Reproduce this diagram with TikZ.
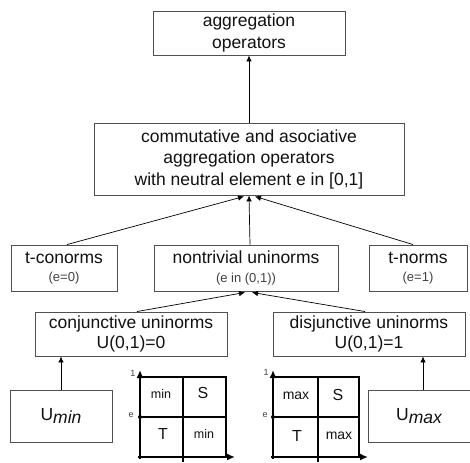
\documentclass[tikz,border=0pt]{standalone}
\usepackage{fontspec}
\setmainfont{Liberation Sans}
\usetikzlibrary{arrows.meta,calc}
\definecolor{boxgray}{HTML}{505050}
\definecolor{txt}{HTML}{111111}
\definecolor{subtxt}{HTML}{404040}
\newcommand\bigf{\fontsize{17.5}{21.5}\selectfont}
\newcommand\smallf{\fontsize{13}{15}\selectfont}
\newcommand\gridf{\fontsize{12.5}{14}\selectfont}
\newcommand\tinyf{\fontsize{9}{10}\selectfont}
\begin{document}
\begin{tikzpicture}[x=1pt,y=-1pt,
  box/.style={draw=boxgray, line width=0.9pt, fill=white, align=center, inner sep=0pt, text=txt, font=\bigf},
  arr/.style={-{Latex[length=6pt,width=5.5pt]}, line width=0.7pt, draw=black},
  axis/.style={line width=2.2pt, -{Latex[length=8pt,width=7pt]}},
  gline/.style={line width=2.2pt},
  glabel/.style={inner sep=0pt, text=txt, font=\gridf},
  alabel/.style={inner sep=0pt, text=subtxt, font=\tinyf}]
\useasboundingbox (0,0) rectangle (470,462);
% boxes
\node[box, minimum width=192pt, minimum height=44pt] (top) at (249,33) {aggregation\\operators};
\node[box, minimum width=310pt, minimum height=72pt] (mid) at (249,159) {commutative and asociative\\aggregation operators\\with neutral element e in [0,1]};
\node[box, minimum width=106pt, minimum height=46pt] (tcon) at (64,268) {t-conorms\\[-3pt]{\smallf\color{subtxt}(e=0)}};
\node[box, minimum width=184pt, minimum height=46pt] (nontriv) at (246,268) {nontrivial uninorms\\[-3pt]{\smallf\color{subtxt}(e in (0,1))}};
\node[box, minimum width=98pt, minimum height=46pt] (tnorm) at (418,268) {t-norms\\[-3pt]{\smallf\color{subtxt}(e=1)}};
\node[box, minimum width=192pt, minimum height=44pt] (conj) at (131,334) {conjunctive uninorms\\[-2pt]U(0,1)=0};
\node[box, minimum width=192pt, minimum height=44pt] (disj) at (369,334) {disjunctive uninorms\\[-2pt]U(0,1)=1};
\node[box, minimum width=102pt, minimum height=52pt] (umin) at (61,416) {U\raisebox{-3pt}{\itshape min}};
\node[box, minimum width=102pt, minimum height=52pt] (umax) at (419,416) {U\raisebox{-3pt}{\itshape max}};
% connectors
\draw[arr] (mid.north) -- (top.south);
\draw[arr] ($(tcon.north)+(3,0)$) -- ($(mid.south)+(-5,1)$);
\draw[arr] ($(nontriv.north)+(4,0)$) -- (mid.south);
\draw[arr] ($(tnorm.north)+(-5,0)$) -- ($(mid.south)+(6,1)$);
\draw[arr] ($(conj.north)+(6,0)$) -- ($(nontriv.south)+(-1,1)$);
\draw[arr] ($(disj.north)+(-4,0)$) -- ($(nontriv.south)+(6,1)$);
\draw[arr] (umin.north) -- (umin.north |- conj.south);
\draw[arr] ($(umax.north)+(4,0)$) -- ($(umax.north |- disj.south)+(4,0)$);
% left grid
\draw[gline] (140,377) -- (226,377) -- (226,457);
\draw[gline] (183,377) -- (183,462);
\draw[gline] (140,417) -- (227,417);
\draw[axis] (140,459) -- (140,370);
\draw[axis] (138,457) -- (235,457);
\fill (140,417) circle (2pt);
\node[alabel] (l1) at (133,373) {1};
\node[alabel] (le) at (131,415) {e};
\node[glabel] (lmin1) at (161,394) {min};
\node[glabel, font=\fontsize{16}{18}\selectfont] (lS) at (203,393) {S};
\node[glabel, font=\fontsize{16}{18}\selectfont] (lT) at (163,434) {T};
\node[glabel] (lmin2) at (204,434) {min};
% right grid
\draw[gline] (273,377) -- (359,377) -- (359,457);
\draw[gline] (318,377) -- (318,462);
\draw[gline] (273,417) -- (360,417);
\draw[axis] (273,459) -- (273,370);
\draw[axis] (271,457) -- (368,457);
\fill (273,417) circle (2pt);
\node[alabel] (r1) at (266,372) {1};
\node[alabel] (re) at (265,415) {e};
\node[glabel, font=\fontsize{14}{16}\selectfont] (rmax1) at (296,396) {max};
\node[glabel, font=\fontsize{16}{18}\selectfont] (rS) at (338,395) {S};
\node[glabel, font=\fontsize{16}{18}\selectfont] (rT) at (297,436) {T};
\node[glabel, font=\fontsize{14}{16}\selectfont] (rmax2) at (339,436) {max};
\end{tikzpicture}
\end{document}
